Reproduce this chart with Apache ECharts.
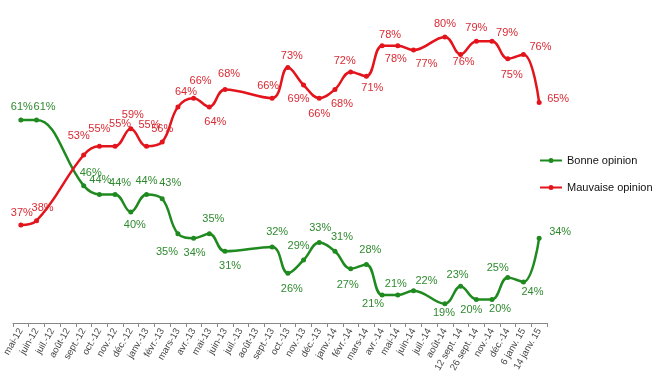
<!DOCTYPE html>
<html><head><meta charset="utf-8">
<script src="https://cdn.jsdelivr.net/npm/echarts@6/dist/echarts.min.js"></script>
<style>html,body{margin:0;padding:0;background:#fff}#c{width:660px;height:383px}</style>
</head><body><div id="c"></div>
<script>
const categories = ["mai-12","juin-12","juil.-12","août-12","sept.-12","oct.-12","nov.-12","déc.-12","janv.-13","févr.-13","mars-13","avr.-13","mai-13","juin-13","juil.-13","août-13","sept.-13","oct.-13","nov.-13","déc.-13","janv.-14","févr.-14","mars-14","avr.-14","mai-14","juin-14","juil.-14","août-14","12 sept. 14","26 sept. 14","nov.-14","déc.-14","6 janv. 15","14 janv. 15"];
const bonne = [61,61,null,null,46,44,44,40,44,43,35,34,35,31,null,null,32,26,29,33,31,27,28,21,21,22,null,19,23,20,20,25,24,34];
const mauvaise = [37,38,null,null,53,55,55,59,55,56,64,66,64,68,null,null,66,73,69,66,68,72,71,78,78,77,null,80,76,79,79,75,76,65];

// label offsets (style only)
const bonneOff = [[1,-13],[8,-13],null,null,[7,-13],[1,-14],[5,-11],[4,13],[0,-13],[8,-16],[-11,18],[1,15],[4,-15],[5,15],null,null,[5,-15],[4,16],[-5,-14],[1,-15],[7,-14],[-3,16],[4,-14],[-9,9],[-2,-11],[13,-10],null,[-1,9],[-3,-11],[-5,11],[8,10],[-10,-10],[9,10],[21,-6]];
const mauvaiseOff = [[1,-12],[6,-13],null,null,[-5,-19],[0,-17],[5,-22],[2,-14],[3,-21],[0,-13],[8,-15],[7,-17],[6,15],[4,-15],null,null,[-4,-12],[4,-12],[-5,14],[0,16],[7,15],[-6,-11],[6,12],[8,-11],[-2,13],[13,14],null,[0,-13],[3,8],[0,-13],[15,-8],[4,16],[17,-7],[19,-4]];

const GREEN = '#1f8a1f', RED = '#e3141c';
const GREEN_T = '#2f8a2f', RED_T = '#d92a33';
const LEGEND_ICON = 'path://M0,1.5 L22,1.5 L22,3.5 L0,3.5 Z M8.5,2.5 A2.5,2.5 0 1 1 13.5,2.5 A2.5,2.5 0 1 1 8.5,2.5 Z';

function build(vals, offs){
  return vals.map((v,i)=> v==null ? null : {
    value: v,
    label: {offset: offs[i]}
  });
}

const chart = echarts.init(document.getElementById('c'));
chart.setOption({
  animation:false,
  grid:{left:13,right:113,top:15,bottom:60},
  legend:{
    orient:'vertical', left:535, top:150, itemWidth:22, itemHeight:14, itemGap:16,
    icon: LEGEND_ICON,
    textStyle:{fontFamily:'Liberation Sans', fontSize:11, color:'#111'},
    data:['Bonne opinion','Mauvaise opinion']
  },
  xAxis:{
    type:'category', data:categories, boundaryGap:true,
    axisLine:{lineStyle:{color:'#888',width:1}},
    axisTick:{show:true,length:4,lineStyle:{color:'#888'}},
    axisLabel:{interval:0, rotate:60, fontFamily:'Liberation Sans', fontSize:9.5, color:'#444', margin:6},
    splitLine:{show:false}
  },
  yAxis:{type:'value', min:14.6, max:85, show:false, splitLine:{show:false}},
  series:[
    {name:'Bonne opinion', type:'line', smooth:0.4, connectNulls:true,
     data: build(bonne, bonneOff),
     symbol:'circle', symbolSize:5,
     lineStyle:{color:GREEN, width:2.5}, itemStyle:{color:GREEN},
     label:{show:true, position:'inside', formatter:'{c}%', color:GREEN_T, fontFamily:'Liberation Sans', fontSize:11}
    },
    {name:'Mauvaise opinion', type:'line', smooth:0.4, connectNulls:true,
     data: build(mauvaise, mauvaiseOff),
     symbol:'circle', symbolSize:5,
     lineStyle:{color:RED, width:2.5}, itemStyle:{color:RED},
     label:{show:true, position:'inside', formatter:'{c}%', color:RED_T, fontFamily:'Liberation Sans', fontSize:11}
    }
  ]
});
</script></body></html>
